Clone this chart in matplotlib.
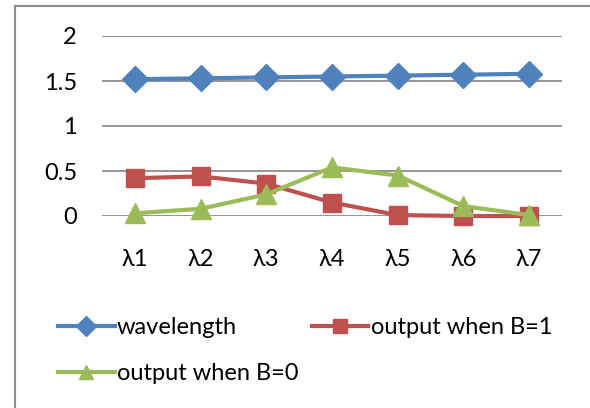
import matplotlib.pyplot as plt
from matplotlib.lines import Line2D

plt.rcParams['font.family'] = ['Lato', 'DejaVu Sans']

categories = ['λ1', 'λ2', 'λ3', 'λ4', 'λ5', 'λ6', 'λ7']
wavelength = [1.52, 1.53, 1.54, 1.55, 1.56, 1.57, 1.58]
out_b1 = [0.42, 0.44, 0.36, 0.15, 0.01, 0.0, 0.0]
out_b0 = [0.03, 0.08, 0.24, 0.54, 0.45, 0.11, 0.01]

W, H = 590, 408
fig = plt.figure(figsize=(W / 100, H / 100), dpi=100)
ax = fig.add_axes([102 / W, 1 - 216 / H, (562 - 102) / W, 180 / H])

x = range(len(categories))
l1, = ax.plot(x, wavelength, color='#4F81BD', lw=3, marker='D', ms=13, clip_on=False, zorder=3)
l2, = ax.plot(x, out_b1, color='#C0504D', lw=3, marker='s', ms=13, clip_on=False, zorder=3)
l3, = ax.plot(x, out_b0, color='#9BBB59', lw=3, marker='^', ms=14, clip_on=False, zorder=4)

ax.set_xlim(-0.5, 6.5)
ax.set_ylim(0, 2)
ax.set_yticks([0, 0.5, 1, 1.5, 2])
ax.set_yticklabels(['0', '0.5', '1', '1.5', '2'])
ax.set_xticks(list(x))
ax.set_xticklabels(categories)
ax.tick_params(length=0, labelsize=17)
ax.tick_params(axis='y', pad=18)
ax.tick_params(axis='x', pad=24)
ax.yaxis.grid(True, color='#8C8C8C', lw=1.3)
ax.set_axisbelow(True)
for s in ax.spines.values():
    s.set_visible(False)

leg = fig.legend([l1, l3, l2], ['wavelength', 'output when B=0', 'output when B=1'],
                 ncol=2, loc='upper left', bbox_to_anchor=(58 / W, 1 - 317 / H),
                 frameon=False, fontsize=17, handlelength=2.4, handletextpad=0.1,
                 columnspacing=0.55, labelspacing=1.05, borderpad=0, borderaxespad=0,
                 markerscale=0.75)

# chart border (left and top only visible)
fig.add_artist(Line2D([15 / W, 15 / W], [0, 1 - 6 / H], color='#8C8C8C', lw=1.5))
fig.add_artist(Line2D([15 / W, 1], [1 - 6 / H, 1 - 6 / H], color='#8C8C8C', lw=1.5))

fig.savefig('out.png', dpi=100)
